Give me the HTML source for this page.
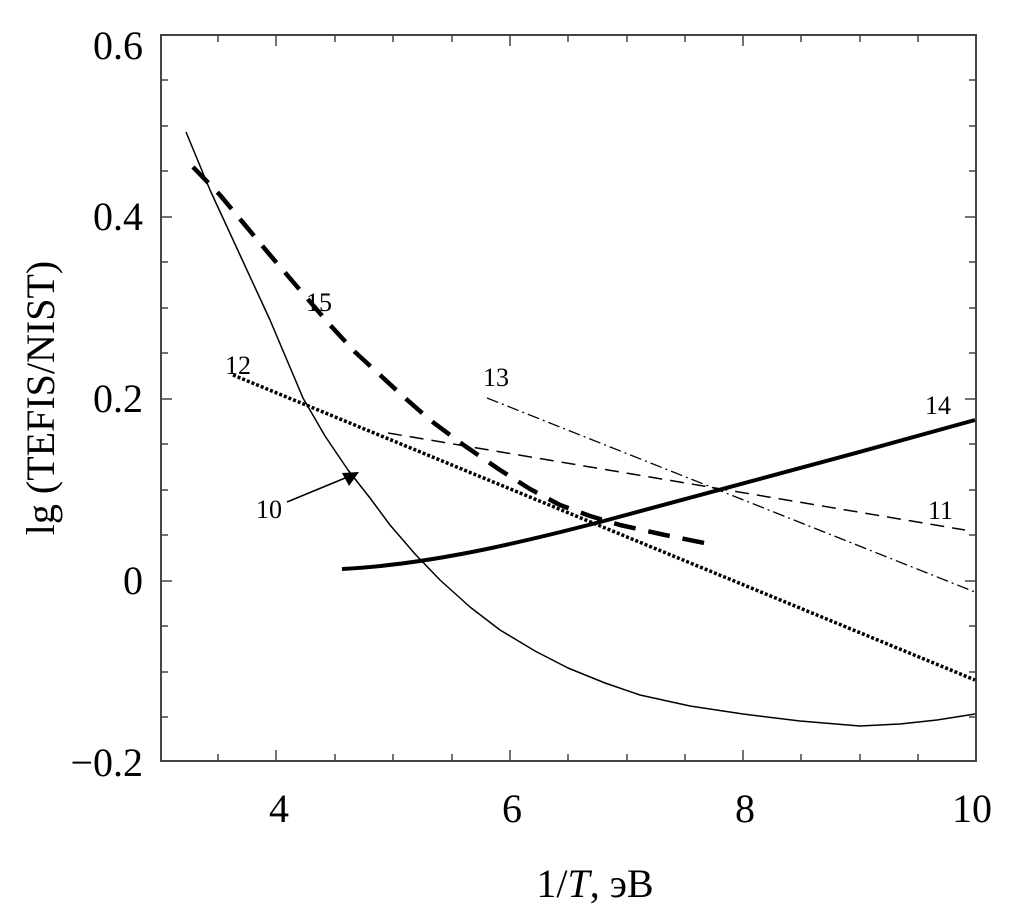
<!DOCTYPE html>
<html><head><meta charset="utf-8"><style>
html,body{margin:0;padding:0;background:#fff}
svg{display:block}
text{font-family:"Liberation Serif",serif;fill:#000}
</style></head><body>
<svg width="1010" height="921" viewBox="0 0 1010 921">
<rect x="161" y="35" width="815" height="726" fill="none" stroke="#444" stroke-width="2"/>
<g stroke="#444" stroke-width="1.5">
<path d="M218,761v-7M276,761v-11M335,761v-7M393,761v-7M452,761v-7M510,761v-11M568,761v-7M627,761v-7M685,761v-7M743,761v-11M801,761v-7M860,761v-7M918,761v-7"/>
<path d="M218,35v7M276,35v11M335,35v7M393,35v7M452,35v7M510,35v11M568,35v7M627,35v7M685,35v7M743,35v11M801,35v7M860,35v7M918,35v7"/>
<path d="M161,80h7M161,126h7M161,171h7M161,217h11M161,262h7M161,308h7M161,353h7M161,399h11M161,444h7M161,490h7M161,535h7M161,581h11M161,626h7M161,672h7M161,717h7"/>
<path d="M976,80h-7M976,126h-7M976,171h-7M976,217h-11M976,262h-7M976,308h-7M976,353h-7M976,399h-11M976,444h-7M976,490h-7M976,535h-7M976,581h-11M976,626h-7M976,672h-7M976,717h-7"/>
</g>
<g font-size="40" text-anchor="end">
<text x="143" y="59">0.6</text>
<text x="143" y="230">0.4</text>
<text x="143" y="412">0.2</text>
<text x="143" y="594">0</text>
<text x="143" y="776">−0.2</text>
</g>
<g font-size="40" text-anchor="middle">
<text x="279" y="822">4</text>
<text x="512" y="822">6</text>
<text x="745" y="822">8</text>
<text x="972" y="822">10</text>
<text x="595" y="897">1/<tspan font-style="italic">T</tspan>, эВ</text>
<text transform="translate(54,398) rotate(-90)">lg (TEFIS/NIST)</text>
</g>
<g fill="none" stroke="#000" stroke-linejoin="round">
<!-- 10 -->
<polyline points="186,132 210,190 240,255 270,320 303,398 325,436 348,470 370,498 390,525 415,554 440,580 470,607 500,630 535,651 568,668 605,683 640,695 690,706 743,714 800,721 860,726 900,724 937,720 975,714" stroke-width="1.5"/>
<!-- 15 -->
<polyline points="193,167 220,195 245,225 270,255 300,290 330,325 355,352 380,375 405,398 430,420 465,446 500,470 530,489 560,505 590,516 620,525 665,535 714,545" stroke-width="4.5" stroke-dasharray="22,13"/>
<!-- 12 -->
<path d="M233,375 L975,680" stroke-width="3.5" stroke-dasharray="3,2"/>
<!-- 11 -->
<path d="M388,433 L965,530" stroke-width="1.5" stroke-dasharray="14,8"/>
<!-- 13 -->
<path d="M487,398 L975,592" stroke-width="1.3" stroke-dasharray="12,4,2,4"/>
<!-- 14 -->
<path d="M342,569 C420,565 500,548 600,522 C720,490 850,455 975,420" stroke-width="4"/>
<path d="M287,502 L350,476" stroke-width="1.5"/>
</g>
<path d="M359,472 L342,473 L349,486 Z" fill="#000"/>
<g font-size="26">
<text x="306" y="311">15</text>
<text x="225" y="374">12</text>
<text x="483" y="386">13</text>
<text x="925" y="414">14</text>
<text x="928" y="519">11</text>
<text x="256" y="518">10</text>
</g>
</svg>
</body></html>
